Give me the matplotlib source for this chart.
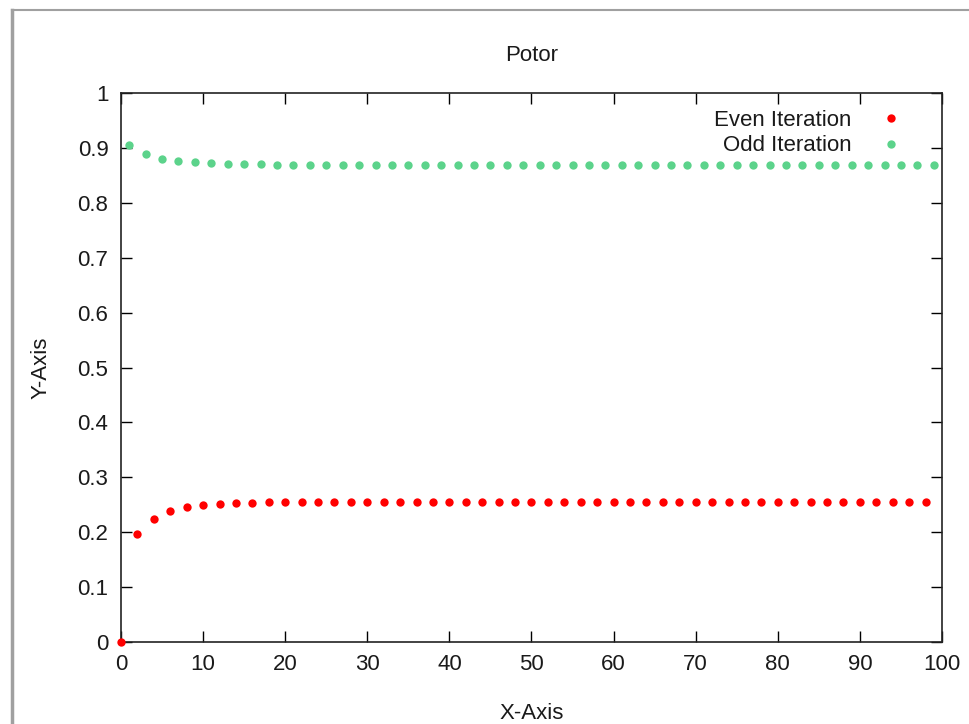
import matplotlib
matplotlib.use("Agg")
import matplotlib.pyplot as plt
from matplotlib.lines import Line2D

plt.rcParams['font.family'] = ['Liberation Sans', 'DejaVu Sans']

title = "Potor"
x_label = "X-Axis"
y_label = "Y-Axis"

even_x = [0, 2, 4, 6, 8, 10, 12, 14, 16, 18, 20, 22, 24, 26, 28, 30, 32, 34, 36, 38,
          40, 42, 44, 46, 48, 50, 52, 54, 56, 58, 60, 62, 64, 66, 68, 70, 72, 74, 76, 78,
          80, 82, 84, 86, 88, 90, 92, 94, 96, 98]
even_y = [0.000, 0.197, 0.224, 0.238, 0.245, 0.249, 0.252, 0.253, 0.254, 0.2545,
          0.2548, 0.2548, 0.2548, 0.2548, 0.2548, 0.2548, 0.2548, 0.2548, 0.2548, 0.2548,
          0.2548, 0.2548, 0.2548, 0.2548, 0.2548, 0.2548, 0.2548, 0.2548, 0.2548, 0.2548,
          0.2548, 0.2548, 0.2548, 0.2548, 0.2548, 0.2548, 0.2548, 0.2548, 0.2548, 0.2548,
          0.2548, 0.2548, 0.2548, 0.2548, 0.2548, 0.2548, 0.2548, 0.2548, 0.2548, 0.2548]

odd_x = [1, 3, 5, 7, 9, 11, 13, 15, 17, 19, 21, 23, 25, 27, 29, 31, 33, 35, 37, 39,
         41, 43, 45, 47, 49, 51, 53, 55, 57, 59, 61, 63, 65, 67, 69, 71, 73, 75, 77, 79,
         81, 83, 85, 87, 89, 91, 93, 95, 97, 99]
odd_y = [0.905, 0.888, 0.880, 0.877, 0.874, 0.872, 0.871, 0.870, 0.8698, 0.8697,
         0.8697, 0.8697, 0.8697, 0.8697, 0.8697, 0.8697, 0.8697, 0.8697, 0.8697, 0.8697,
         0.8697, 0.8697, 0.8697, 0.8697, 0.8697, 0.8697, 0.8697, 0.8697, 0.8697, 0.8697,
         0.8697, 0.8697, 0.8697, 0.8697, 0.8697, 0.8697, 0.8697, 0.8697, 0.8697, 0.8697,
         0.8697, 0.8697, 0.8697, 0.8697, 0.8697, 0.8697, 0.8697, 0.8697, 0.8697, 0.8697]

series_names = ["Even Iteration", "Odd Iteration"]
series_colors = ["#ff0000", "#5cd38b"]

x_ticks = [0, 10, 20, 30, 40, 50, 60, 70, 80, 90, 100]
y_ticks = [0, 0.1, 0.2, 0.3, 0.4, 0.5, 0.6, 0.7, 0.8, 0.9, 1]
y_tick_labels = ["0", "0.1", "0.2", "0.3", "0.4", "0.5", "0.6", "0.7", "0.8", "0.9", "1"]

W, H = 970, 724
fig = plt.figure(figsize=(W / 100, H / 100), dpi=100)
ax = fig.add_axes([121 / W, 1 - 642 / H, (942 - 121) / W, (642 - 93) / H])

ax.plot(even_x, even_y, linestyle='none', marker='o', markersize=6,
        markeredgewidth=0, color=series_colors[0], label=series_names[0], clip_on=False, zorder=3)
ax.plot(odd_x, odd_y, linestyle='none', marker='o', markersize=6,
        markeredgewidth=0, color=series_colors[1], label=series_names[1], clip_on=False, zorder=3)

ax.set_xlim(0, 100)
ax.set_ylim(0, 1)
ax.set_xticks(x_ticks)
ax.set_xticklabels([str(t) for t in x_ticks])
ax.set_yticks(y_ticks)
ax.set_yticklabels(y_tick_labels)
ax.tick_params(direction='in', length=8, width=1, labelsize=16, pad=9,
               top=True, right=True, colors='#000000', labelcolor='#1a1a1a')
for s in ax.spines.values():
    s.set_linewidth(1.2)
    s.set_color('#222222')

ax.set_title(title, fontsize=16, pad=23, color='#1a1a1a')
ax.set_xlabel(x_label, fontsize=16, labelpad=20, color='#1a1a1a')
ax.set_ylabel(y_label, fontsize=16, labelpad=19, color='#1a1a1a')

leg = ax.legend(loc='upper right', bbox_to_anchor=(1 - 44 / 821, 1 - 17 / 549), frameon=False,
                markerfirst=False, fontsize=16, handlelength=0.6, handletextpad=1.5,
                labelspacing=0.2, borderaxespad=0, borderpad=0)
for t in leg.get_texts():
    t.set_color('#1a1a1a')

# window frame lines from the screenshot
fig.add_artist(Line2D([12 / W, 12 / W], [0, 1 - 10 / H], transform=fig.transFigure,
                      color='#a0a0a0', linewidth=2.5))
fig.add_artist(Line2D([12 / W, 1], [1 - 10 / H, 1 - 10 / H], transform=fig.transFigure,
                      color='#a0a0a0', linewidth=1.5))

fig.savefig("out.png", dpi=100)
